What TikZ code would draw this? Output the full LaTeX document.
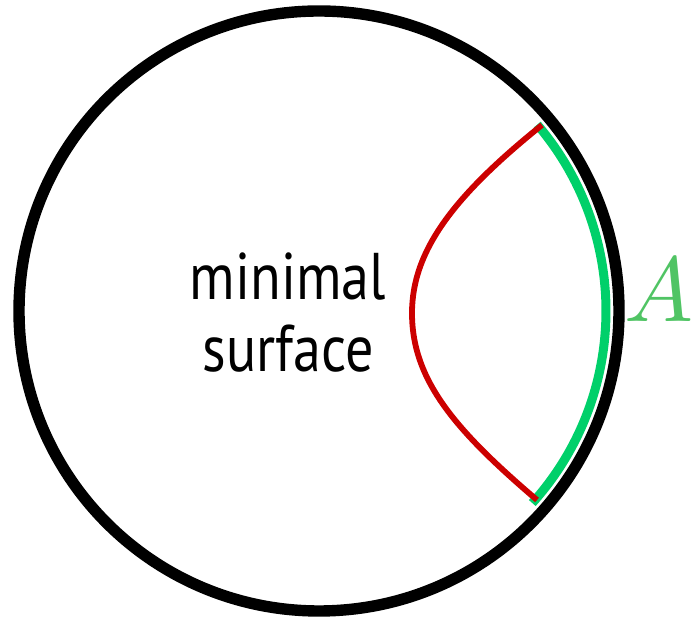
\documentclass[tikz,border=0pt]{standalone}
\usepackage{fontspec}
\setmainfont{PT Sans}
\usepackage{unicode-math}
\setmathfont{Latin Modern Math}
\usepackage{graphicx}
\definecolor{arcgreen}{RGB}{0,208,106}
\definecolor{labgreen}{RGB}{80,196,100}
\definecolor{geored}{RGB}{204,0,0}
\begin{document}
\begin{tikzpicture}[x=0.5pt,y=-0.5pt,
  bdry/.style={draw=black,line width=5.7pt},
  region/.style={draw=arcgreen,line width=4.5pt},
  geod/.style={draw=geored,line width=2.9pt},
  lbl/.style={font=\fontsize{33}{33}\selectfont,inner sep=0pt,anchor=base}]
\useasboundingbox (0,0) rectangle (692,619);
\coordinate (c) at (319,311);
\draw[bdry] (c) circle[radius=150pt];
\draw[region] ([shift={(-42:143.5pt)}]c) arc[start angle=-42,end angle=40.5,radius=143.5pt];
\coordinate (p) at (542,125);
\coordinate (q) at (537,500);
\coordinate (m) at (412,313);
\draw[geod] (p) .. controls (455,195) and (412,250) .. (m) .. controls (412,380) and (455,430) .. (q);
\node[lbl] (t1) at (288,300) {\scalebox{0.85}[1]{minimal}};
\node[lbl] (t2) at (288,372) {\scalebox{0.85}[1]{surface}};
\node[inner sep=0pt,anchor=base west,text=labgreen,font=\fontsize{46}{46}\selectfont] (A) at (624,322) {$A$};
\end{tikzpicture}
\end{document}
